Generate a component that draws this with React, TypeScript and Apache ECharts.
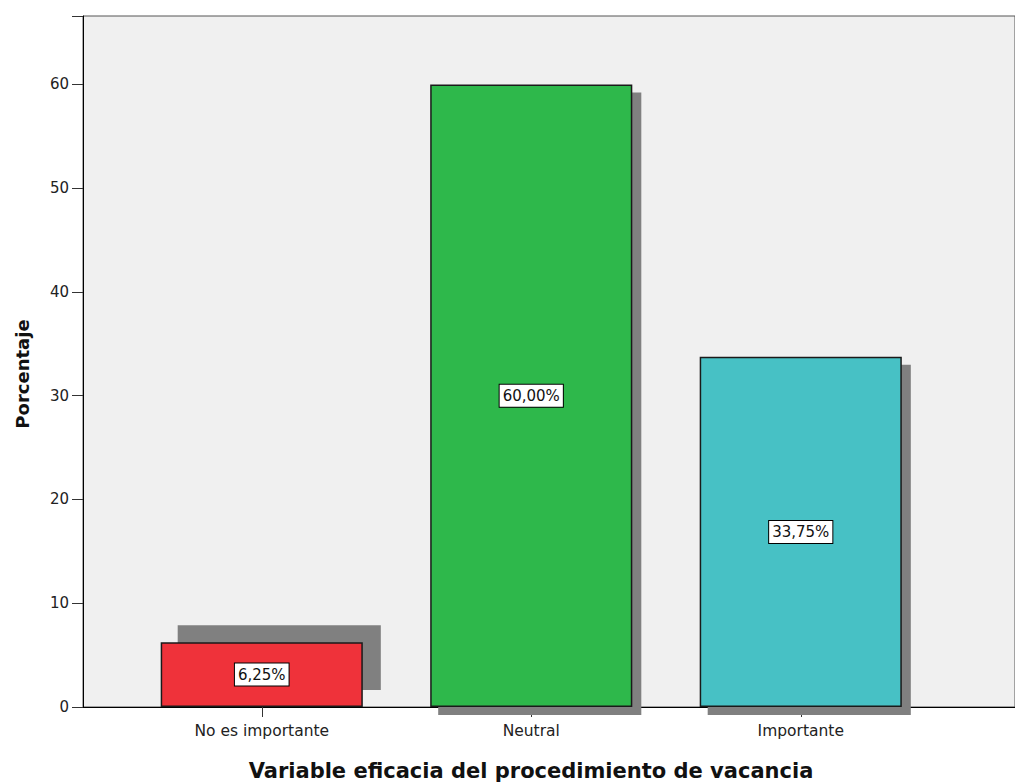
import React, { useEffect, useRef } from "react";
import * as echarts from "echarts";

const categories = ["No es importante", "Neutral", "Importante"];
const percentages = [6.25, 60.0, 33.75];
const barColors = ["#ef323a", "#2eb84b", "#47c1c5"];
const yTicks = [0, 10, 20, 30, 40, 50, 60];

const FONT = "'DejaVu Sans', Verdana, sans-serif";

export default function App() {
  const ref = useRef<HTMLDivElement>(null);

  useEffect(() => {
    document.body.style.margin = "0";
    if (!ref.current) return;
    const chart = echarts.init(ref.current, undefined, { renderer: "svg" });
    const yMax = 66.6;

    const option: any = {
      animation: false,
      backgroundColor: "#ffffff",
      textStyle: { fontFamily: FONT },
      grid: [
        {
          left: 83,
          top: 16,
          right: -2,
          bottom: 75,
          show: true,
          backgroundColor: "#f0f0f0",
          borderColor: "#555555",
          borderWidth: 1,
        },
        { left: 127, top: 16, right: 79.5, bottom: 75 },
      ],
      xAxis: [
        {
          gridIndex: 0,
          type: "value",
          min: 0,
          max: 1,
          axisLine: { show: true, lineStyle: { color: "#000", width: 1 } },
          axisTick: { show: false },
          axisLabel: { show: false },
          splitLine: { show: false },
        },
        {
          gridIndex: 1,
          type: "category",
          data: categories,
          axisLine: { show: false },
          axisTick: {
            show: true,
            alignWithLabel: true,
            length: 10,
            lineStyle: { color: "#333" },
          },
          axisLabel: {
            margin: 16,
            fontSize: 15.5,
            color: "#222",
            fontFamily: FONT,
          },
          splitLine: { show: false },
        },
      ],
      yAxis: [
        {
          gridIndex: 0,
          type: "value",
          min: 0,
          max: yMax,
          interval: 10,
          axisLine: { show: true, lineStyle: { color: "#000", width: 1 } },
          axisTick: { show: true, length: 11, lineStyle: { color: "#333" } },
          axisLabel: {
            margin: 14,
            fontSize: 15,
            color: "#222",
            fontFamily: FONT,
            formatter: (v: number) => (yTicks.includes(v) ? String(v) : ""),
          },
          splitLine: { show: false },
        },
        {
          gridIndex: 1,
          type: "value",
          min: 0,
          max: yMax,
          show: false,
        },
      ],
      series: [
        {
          type: "custom",
          xAxisIndex: 1,
          yAxisIndex: 1,
          clip: false,
          z: 1,
          data: percentages.map((v, i) => [i, v]),
          renderItem: (params: any, api: any) => {
            const idx = api.value(0);
            const val = api.value(1);
            const top = api.coord([idx, val]);
            const base = api.coord([idx, 0]);
            const w = api.size([1, 0])[0] * 0.75;
            const off = idx === 0 ? [17, -17] : [8, 8];
            return {
              type: "rect",
              shape: {
                x: top[0] - w / 2 + off[0],
                y: top[1] + off[1],
                width: w + 1,
                height: base[1] - top[1],
              },
              style: { fill: "#808080" },
            };
          },
        },
        {
          type: "bar",
          xAxisIndex: 1,
          yAxisIndex: 1,
          z: 3,
          barWidth: "75%",
          data: percentages.map((v, i) => ({
            value: v,
            itemStyle: { color: barColors[i] },
          })),
          itemStyle: { borderColor: "#1a1a1a", borderWidth: 1.5 },
          label: {
            show: true,
            position: "inside",
            formatter: (p: any) =>
              p.value.toFixed(2).replace(".", ",") + "%",
            backgroundColor: "#ffffff",
            borderColor: "#000000",
            borderWidth: 1,
            padding: [4, 3, 3, 3],
            fontSize: 15,
            color: "#111",
            fontFamily: FONT,
          },
        },
      ],
      graphic: [
        {
          type: "text",
          x: 22,
          y: 374,
          rotation: Math.PI / 2,
          style: {
            text: "Porcentaje",
            fontSize: 18,
            fontWeight: "bold",
            fontFamily: FONT,
            fill: "#111",
            align: "center",
            verticalAlign: "middle",
          },
        },
        {
          type: "text",
          x: 531,
          y: 771,
          style: {
            text: "Variable eficacia del procedimiento de vacancia",
            fontSize: 21,
            fontWeight: "bold",
            fontFamily: FONT,
            fill: "#111",
            align: "center",
            verticalAlign: "middle",
          },
        },
      ],
    };

    chart.setOption(option);
    return () => chart.dispose();
  }, []);

  return <div ref={ref} style={{ width: 1015, height: 782 }} />;
}
